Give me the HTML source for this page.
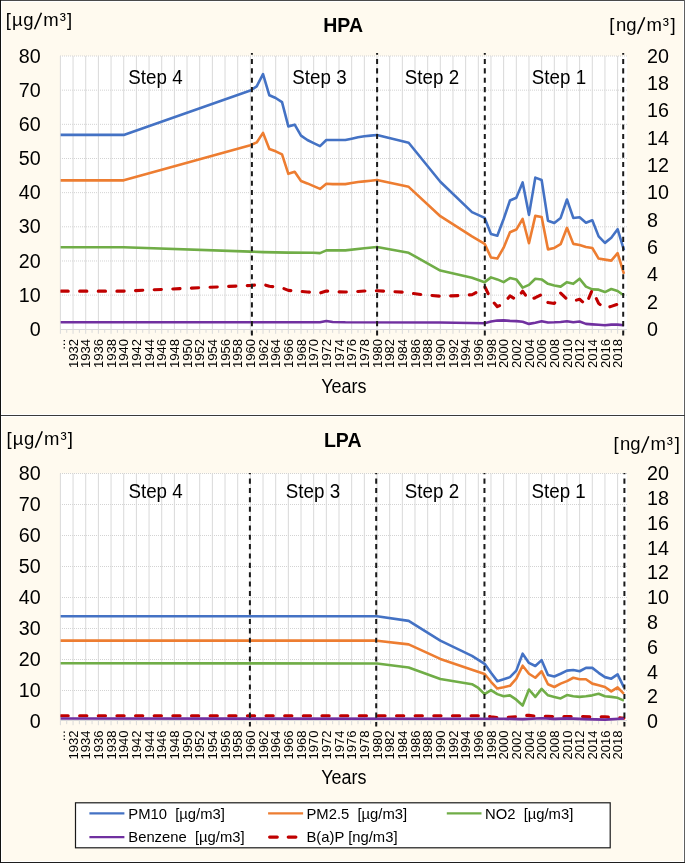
<!DOCTYPE html>
<html><head><meta charset="utf-8"><title>HPA LPA</title><style>html,body{margin:0;padding:0;background:#FFFAEF;}body{width:685px;height:863px;overflow:hidden;}svg{display:block;font-family:"Liberation Sans", sans-serif;will-change:transform;}</style></head><body>
<svg width="685" height="863" viewBox="0 0 685 863">
<rect x="0" y="0" width="685" height="863" fill="#262626"/>
<rect x="0" y="0" width="685" height="1" fill="#4A4A4A"/>
<rect x="684" y="0" width="1" height="863" fill="#606060"/>
<rect x="0" y="862" width="685" height="1" fill="#1E1E1E"/>
<rect x="0" y="415" width="685" height="1" fill="#3A3A3A"/>
<rect x="0" y="0" width="1" height="863" fill="#111"/>
<rect x="1" y="1" width="683" height="414" fill="#FFFFFF"/>
<rect x="1" y="416" width="683" height="446" fill="#FFFFFF"/>
<rect x="2" y="2" width="681" height="412" fill="#FFFAEF"/>
<rect x="2" y="417" width="681" height="444" fill="#FFFAEF"/>
<rect x="60.4" y="56" width="566.6" height="273.3" fill="#FFFFFF"/>
<line x1="60" y1="56" x2="627" y2="56" stroke="#D3D3D3" stroke-width="1" stroke-dasharray="1 1"/>
<line x1="60" y1="90.16" x2="627" y2="90.16" stroke="#D3D3D3" stroke-width="1" stroke-dasharray="1 1"/>
<line x1="60" y1="124.33" x2="627" y2="124.33" stroke="#D3D3D3" stroke-width="1" stroke-dasharray="1 1"/>
<line x1="60" y1="158.49" x2="627" y2="158.49" stroke="#D3D3D3" stroke-width="1" stroke-dasharray="1 1"/>
<line x1="60" y1="192.65" x2="627" y2="192.65" stroke="#D3D3D3" stroke-width="1" stroke-dasharray="1 1"/>
<line x1="60" y1="226.81" x2="627" y2="226.81" stroke="#D3D3D3" stroke-width="1" stroke-dasharray="1 1"/>
<line x1="60" y1="260.98" x2="627" y2="260.98" stroke="#D3D3D3" stroke-width="1" stroke-dasharray="1 1"/>
<line x1="60" y1="295.14" x2="627" y2="295.14" stroke="#D3D3D3" stroke-width="1" stroke-dasharray="1 1"/>
<line x1="60.4" y1="56" x2="60.4" y2="333.8" stroke="#D9D9D9" stroke-width="1"/>
<line x1="73.06" y1="56" x2="73.06" y2="333.8" stroke="#D9D9D9" stroke-width="1"/>
<line x1="85.73" y1="56" x2="85.73" y2="333.8" stroke="#D9D9D9" stroke-width="1"/>
<line x1="98.39" y1="56" x2="98.39" y2="333.8" stroke="#D9D9D9" stroke-width="1"/>
<line x1="111.06" y1="56" x2="111.06" y2="333.8" stroke="#D9D9D9" stroke-width="1"/>
<line x1="123.72" y1="56" x2="123.72" y2="333.8" stroke="#D9D9D9" stroke-width="1"/>
<line x1="136.38" y1="56" x2="136.38" y2="333.8" stroke="#D9D9D9" stroke-width="1"/>
<line x1="149.05" y1="56" x2="149.05" y2="333.8" stroke="#D9D9D9" stroke-width="1"/>
<line x1="161.71" y1="56" x2="161.71" y2="333.8" stroke="#D9D9D9" stroke-width="1"/>
<line x1="174.38" y1="56" x2="174.38" y2="333.8" stroke="#D9D9D9" stroke-width="1"/>
<line x1="187.04" y1="56" x2="187.04" y2="333.8" stroke="#D9D9D9" stroke-width="1"/>
<line x1="199.7" y1="56" x2="199.7" y2="333.8" stroke="#D9D9D9" stroke-width="1"/>
<line x1="212.37" y1="56" x2="212.37" y2="333.8" stroke="#D9D9D9" stroke-width="1"/>
<line x1="225.03" y1="56" x2="225.03" y2="333.8" stroke="#D9D9D9" stroke-width="1"/>
<line x1="237.7" y1="56" x2="237.7" y2="333.8" stroke="#D9D9D9" stroke-width="1"/>
<line x1="250.36" y1="56" x2="250.36" y2="333.8" stroke="#D9D9D9" stroke-width="1"/>
<line x1="263.02" y1="56" x2="263.02" y2="333.8" stroke="#D9D9D9" stroke-width="1"/>
<line x1="275.69" y1="56" x2="275.69" y2="333.8" stroke="#D9D9D9" stroke-width="1"/>
<line x1="288.35" y1="56" x2="288.35" y2="333.8" stroke="#D9D9D9" stroke-width="1"/>
<line x1="301.02" y1="56" x2="301.02" y2="333.8" stroke="#D9D9D9" stroke-width="1"/>
<line x1="313.68" y1="56" x2="313.68" y2="333.8" stroke="#D9D9D9" stroke-width="1"/>
<line x1="326.34" y1="56" x2="326.34" y2="333.8" stroke="#D9D9D9" stroke-width="1"/>
<line x1="339.01" y1="56" x2="339.01" y2="333.8" stroke="#D9D9D9" stroke-width="1"/>
<line x1="351.67" y1="56" x2="351.67" y2="333.8" stroke="#D9D9D9" stroke-width="1"/>
<line x1="364.34" y1="56" x2="364.34" y2="333.8" stroke="#D9D9D9" stroke-width="1"/>
<line x1="377" y1="56" x2="377" y2="333.8" stroke="#D9D9D9" stroke-width="1"/>
<line x1="389.66" y1="56" x2="389.66" y2="333.8" stroke="#D9D9D9" stroke-width="1"/>
<line x1="402.33" y1="56" x2="402.33" y2="333.8" stroke="#D9D9D9" stroke-width="1"/>
<line x1="414.99" y1="56" x2="414.99" y2="333.8" stroke="#D9D9D9" stroke-width="1"/>
<line x1="427.66" y1="56" x2="427.66" y2="333.8" stroke="#D9D9D9" stroke-width="1"/>
<line x1="440.32" y1="56" x2="440.32" y2="333.8" stroke="#D9D9D9" stroke-width="1"/>
<line x1="452.98" y1="56" x2="452.98" y2="333.8" stroke="#D9D9D9" stroke-width="1"/>
<line x1="465.65" y1="56" x2="465.65" y2="333.8" stroke="#D9D9D9" stroke-width="1"/>
<line x1="478.31" y1="56" x2="478.31" y2="333.8" stroke="#D9D9D9" stroke-width="1"/>
<line x1="490.98" y1="56" x2="490.98" y2="333.8" stroke="#D9D9D9" stroke-width="1"/>
<line x1="503.64" y1="56" x2="503.64" y2="333.8" stroke="#D9D9D9" stroke-width="1"/>
<line x1="516.3" y1="56" x2="516.3" y2="333.8" stroke="#D9D9D9" stroke-width="1"/>
<line x1="528.97" y1="56" x2="528.97" y2="333.8" stroke="#D9D9D9" stroke-width="1"/>
<line x1="541.63" y1="56" x2="541.63" y2="333.8" stroke="#D9D9D9" stroke-width="1"/>
<line x1="554.3" y1="56" x2="554.3" y2="333.8" stroke="#D9D9D9" stroke-width="1"/>
<line x1="566.96" y1="56" x2="566.96" y2="333.8" stroke="#D9D9D9" stroke-width="1"/>
<line x1="579.62" y1="56" x2="579.62" y2="333.8" stroke="#D9D9D9" stroke-width="1"/>
<line x1="592.29" y1="56" x2="592.29" y2="333.8" stroke="#D9D9D9" stroke-width="1"/>
<line x1="604.95" y1="56" x2="604.95" y2="333.8" stroke="#D9D9D9" stroke-width="1"/>
<line x1="617.62" y1="56" x2="617.62" y2="333.8" stroke="#D9D9D9" stroke-width="1"/>
<line x1="66.73" y1="329.3" x2="66.73" y2="332.8" stroke="#D9D9D9" stroke-width="1"/>
<line x1="79.4" y1="329.3" x2="79.4" y2="332.8" stroke="#D9D9D9" stroke-width="1"/>
<line x1="92.06" y1="329.3" x2="92.06" y2="332.8" stroke="#D9D9D9" stroke-width="1"/>
<line x1="104.72" y1="329.3" x2="104.72" y2="332.8" stroke="#D9D9D9" stroke-width="1"/>
<line x1="117.39" y1="329.3" x2="117.39" y2="332.8" stroke="#D9D9D9" stroke-width="1"/>
<line x1="130.05" y1="329.3" x2="130.05" y2="332.8" stroke="#D9D9D9" stroke-width="1"/>
<line x1="142.72" y1="329.3" x2="142.72" y2="332.8" stroke="#D9D9D9" stroke-width="1"/>
<line x1="155.38" y1="329.3" x2="155.38" y2="332.8" stroke="#D9D9D9" stroke-width="1"/>
<line x1="168.04" y1="329.3" x2="168.04" y2="332.8" stroke="#D9D9D9" stroke-width="1"/>
<line x1="180.71" y1="329.3" x2="180.71" y2="332.8" stroke="#D9D9D9" stroke-width="1"/>
<line x1="193.37" y1="329.3" x2="193.37" y2="332.8" stroke="#D9D9D9" stroke-width="1"/>
<line x1="206.04" y1="329.3" x2="206.04" y2="332.8" stroke="#D9D9D9" stroke-width="1"/>
<line x1="218.7" y1="329.3" x2="218.7" y2="332.8" stroke="#D9D9D9" stroke-width="1"/>
<line x1="231.36" y1="329.3" x2="231.36" y2="332.8" stroke="#D9D9D9" stroke-width="1"/>
<line x1="244.03" y1="329.3" x2="244.03" y2="332.8" stroke="#D9D9D9" stroke-width="1"/>
<line x1="256.69" y1="329.3" x2="256.69" y2="332.8" stroke="#D9D9D9" stroke-width="1"/>
<line x1="269.36" y1="329.3" x2="269.36" y2="332.8" stroke="#D9D9D9" stroke-width="1"/>
<line x1="282.02" y1="329.3" x2="282.02" y2="332.8" stroke="#D9D9D9" stroke-width="1"/>
<line x1="294.68" y1="329.3" x2="294.68" y2="332.8" stroke="#D9D9D9" stroke-width="1"/>
<line x1="307.35" y1="329.3" x2="307.35" y2="332.8" stroke="#D9D9D9" stroke-width="1"/>
<line x1="320.01" y1="329.3" x2="320.01" y2="332.8" stroke="#D9D9D9" stroke-width="1"/>
<line x1="332.68" y1="329.3" x2="332.68" y2="332.8" stroke="#D9D9D9" stroke-width="1"/>
<line x1="345.34" y1="329.3" x2="345.34" y2="332.8" stroke="#D9D9D9" stroke-width="1"/>
<line x1="358" y1="329.3" x2="358" y2="332.8" stroke="#D9D9D9" stroke-width="1"/>
<line x1="370.67" y1="329.3" x2="370.67" y2="332.8" stroke="#D9D9D9" stroke-width="1"/>
<line x1="383.33" y1="329.3" x2="383.33" y2="332.8" stroke="#D9D9D9" stroke-width="1"/>
<line x1="396" y1="329.3" x2="396" y2="332.8" stroke="#D9D9D9" stroke-width="1"/>
<line x1="408.66" y1="329.3" x2="408.66" y2="332.8" stroke="#D9D9D9" stroke-width="1"/>
<line x1="421.32" y1="329.3" x2="421.32" y2="332.8" stroke="#D9D9D9" stroke-width="1"/>
<line x1="433.99" y1="329.3" x2="433.99" y2="332.8" stroke="#D9D9D9" stroke-width="1"/>
<line x1="446.65" y1="329.3" x2="446.65" y2="332.8" stroke="#D9D9D9" stroke-width="1"/>
<line x1="459.32" y1="329.3" x2="459.32" y2="332.8" stroke="#D9D9D9" stroke-width="1"/>
<line x1="471.98" y1="329.3" x2="471.98" y2="332.8" stroke="#D9D9D9" stroke-width="1"/>
<line x1="484.64" y1="329.3" x2="484.64" y2="332.8" stroke="#D9D9D9" stroke-width="1"/>
<line x1="497.31" y1="329.3" x2="497.31" y2="332.8" stroke="#D9D9D9" stroke-width="1"/>
<line x1="509.97" y1="329.3" x2="509.97" y2="332.8" stroke="#D9D9D9" stroke-width="1"/>
<line x1="522.64" y1="329.3" x2="522.64" y2="332.8" stroke="#D9D9D9" stroke-width="1"/>
<line x1="535.3" y1="329.3" x2="535.3" y2="332.8" stroke="#D9D9D9" stroke-width="1"/>
<line x1="547.96" y1="329.3" x2="547.96" y2="332.8" stroke="#D9D9D9" stroke-width="1"/>
<line x1="560.63" y1="329.3" x2="560.63" y2="332.8" stroke="#D9D9D9" stroke-width="1"/>
<line x1="573.29" y1="329.3" x2="573.29" y2="332.8" stroke="#D9D9D9" stroke-width="1"/>
<line x1="585.96" y1="329.3" x2="585.96" y2="332.8" stroke="#D9D9D9" stroke-width="1"/>
<line x1="598.62" y1="329.3" x2="598.62" y2="332.8" stroke="#D9D9D9" stroke-width="1"/>
<line x1="611.28" y1="329.3" x2="611.28" y2="332.8" stroke="#D9D9D9" stroke-width="1"/>
<line x1="623.95" y1="329.3" x2="623.95" y2="332.8" stroke="#D9D9D9" stroke-width="1"/>
<line x1="60.4" y1="329.5" x2="627" y2="329.5" stroke="#D9D9D9" stroke-width="1"/>
<clipPath id="clip0"><rect x="60.4" y="53" width="566.6" height="279.3"/></clipPath>
<g clip-path="url(#clip0)">
<polyline points="60.4,134.92 123.72,134.92 250.36,90.5 256.69,86.4 263.02,74.11 269.36,95.29 275.69,98.02 282.02,102.12 288.35,126.37 294.68,124.67 301.02,135.6 307.35,140.04 313.68,143.11 320.01,146.19 326.34,140.04 332.68,140.04 339.01,140.04 345.34,140.04 351.67,138.67 358,137.31 364.34,136.28 370.67,135.6 377,134.92 408.66,142.77 440.32,181.72 471.98,212.12 484.64,217.93 490.98,233.99 497.31,235.69 503.64,218.96 509.97,200.51 516.3,197.77 522.64,182.4 528.97,214.86 535.3,177.62 541.63,180.01 547.96,220.66 554.3,223.05 560.63,217.93 566.96,199.48 573.29,217.93 579.62,217.25 585.96,222.71 592.29,220.32 598.62,236.38 604.95,242.87 611.28,237.74 617.62,229.2 623.95,250.04" fill="none" stroke="#4472C4" stroke-width="2.6" stroke-linejoin="round" stroke-linecap="butt"/>
<polyline points="60.4,180.35 123.72,180.35 250.36,145.16 256.69,142.43 263.02,132.87 269.36,148.92 275.69,151.31 282.02,154.39 288.35,173.86 294.68,171.81 301.02,181.03 307.35,183.43 313.68,186.16 320.01,188.89 326.34,183.77 332.68,184.11 339.01,184.11 345.34,184.11 351.67,183.08 358,182.06 364.34,181.38 370.67,180.69 377,180.01 408.66,186.84 440.32,216.22 471.98,236.38 484.64,243.89 490.98,257.56 497.31,258.58 503.64,247.65 509.97,232.28 516.3,229.55 522.64,218.96 528.97,243.21 535.3,215.88 541.63,216.91 547.96,249.36 554.3,247.99 560.63,244.24 566.96,227.84 573.29,243.89 579.62,244.92 585.96,246.97 592.29,247.99 598.62,258.58 604.95,259.61 611.28,260.63 617.62,253.12 623.95,273.96" fill="none" stroke="#ED7D31" stroke-width="2.6" stroke-linejoin="round" stroke-linecap="butt"/>
<polyline points="60.4,247.31 123.72,247.31 250.36,251.58 263.02,252.09 288.35,252.61 313.68,252.78 320.01,253.12 326.34,250.38 345.34,250.38 364.34,248.33 377,246.97 408.66,252.78 440.32,270.54 471.98,277.71 484.64,282.16 490.98,277.37 497.31,279.42 503.64,282.16 509.97,278.06 516.3,279.42 522.64,287.62 528.97,284.89 535.3,278.74 541.63,279.42 547.96,283.86 554.3,285.57 560.63,286.6 566.96,282.16 573.29,283.86 579.62,278.74 585.96,286.6 592.29,289.33 598.62,289.67 604.95,292.06 611.28,288.99 617.62,291.04 623.95,295.48" fill="none" stroke="#70AD47" stroke-width="2.6" stroke-linejoin="round" stroke-linecap="butt"/>
<polyline points="60.4,291.17 123.72,291.17 250.36,285.44 256.69,284.89 263.02,284.34 269.36,286.26 275.69,286.94 282.02,287.9 288.35,290.35 294.68,291.04 301.02,291.45 307.35,291.99 313.68,292.4 320.01,293.09 326.34,291.04 332.68,291.45 339.01,291.86 345.34,291.99 351.67,291.72 358,291.45 364.34,291.04 370.67,290.9 377,290.76 402.33,292.13 421.32,294.59 440.32,296.23 459.32,295.55 471.98,294.73 478.31,291.17 484.64,286.39 490.98,299.37 497.31,306.62 503.64,303.61 509.97,295.96 516.3,299.65 522.64,291.17 528.97,300.19 535.3,297.73 541.63,294.59 547.96,302.52 554.3,303.47 560.63,293.09 566.96,299.24 573.29,301.01 579.62,299.24 585.96,304.7 592.29,289.94 598.62,303.34 604.95,308.53 611.28,306.34 617.62,304.16 623.95,303.34" fill="none" stroke="#C00000" stroke-width="3.1" stroke-linejoin="round" stroke-linecap="round" stroke-dasharray="7.24 11.4" stroke-dashoffset="18.05"/>
<polyline points="60.4,322.19 320.01,322.19 326.34,320.93 332.68,321.96 345.34,322.3 440.32,322.47 484.64,323.18 490.98,321.58 497.31,320.59 503.64,320.38 509.97,320.9 516.3,321.1 522.64,321.78 528.97,323.9 535.3,322.67 541.63,321.27 547.96,322.47 554.3,322.3 560.63,321.99 566.96,321.27 573.29,322.3 579.62,321.58 585.96,323.9 592.29,324.38 598.62,324.79 604.95,325.3 611.28,324.59 617.62,324.59 623.95,325.3" fill="none" stroke="#7030A0" stroke-width="2.6" stroke-linejoin="round" stroke-linecap="butt"/>
</g>
<line x1="251.9" y1="52.9" x2="251.9" y2="335.7" stroke="#1A1A1A" stroke-width="2" stroke-dasharray="5.05 4.31" stroke-dashoffset="3.26"/>
<line x1="377.1" y1="52.9" x2="377.1" y2="335.7" stroke="#1A1A1A" stroke-width="2" stroke-dasharray="5.05 4.31" stroke-dashoffset="3.26"/>
<line x1="484.8" y1="52.9" x2="484.8" y2="335.7" stroke="#1A1A1A" stroke-width="2" stroke-dasharray="5.05 4.31" stroke-dashoffset="3.26"/>
<line x1="623.2" y1="52.9" x2="623.2" y2="335.7" stroke="#1A1A1A" stroke-width="2" stroke-dasharray="5.05 4.31" stroke-dashoffset="3.26"/>
<text transform="translate(128.3,83.6) scale(0.925,1)" font-size="20.3" fill="#000">Step 4</text>
<text transform="translate(292.3,83.6) scale(0.925,1)" font-size="20.3" fill="#000">Step 3</text>
<text transform="translate(404.8,83.6) scale(0.925,1)" font-size="20.3" fill="#000">Step 2</text>
<text transform="translate(531.8,83.6) scale(0.925,1)" font-size="20.3" fill="#000">Step 1</text>
<text transform="translate(40.6,62.63) scale(0.943,1)" font-size="20.9" text-anchor="end" fill="#000">80</text>
<text transform="translate(40.6,96.79) scale(0.943,1)" font-size="20.9" text-anchor="end" fill="#000">70</text>
<text transform="translate(40.6,130.96) scale(0.943,1)" font-size="20.9" text-anchor="end" fill="#000">60</text>
<text transform="translate(40.6,165.12) scale(0.943,1)" font-size="20.9" text-anchor="end" fill="#000">50</text>
<text transform="translate(40.6,199.28) scale(0.943,1)" font-size="20.9" text-anchor="end" fill="#000">40</text>
<text transform="translate(40.6,233.44) scale(0.943,1)" font-size="20.9" text-anchor="end" fill="#000">30</text>
<text transform="translate(40.6,267.61) scale(0.943,1)" font-size="20.9" text-anchor="end" fill="#000">20</text>
<text transform="translate(40.6,301.77) scale(0.943,1)" font-size="20.9" text-anchor="end" fill="#000">10</text>
<text transform="translate(40.6,335.93) scale(0.943,1)" font-size="20.9" text-anchor="end" fill="#000">0</text>
<text transform="translate(647.1,62.63) scale(0.943,1)" font-size="20.9" fill="#000">20</text>
<text transform="translate(647.1,89.96) scale(0.943,1)" font-size="20.9" fill="#000">18</text>
<text transform="translate(647.1,117.29) scale(0.943,1)" font-size="20.9" fill="#000">16</text>
<text transform="translate(647.1,144.62) scale(0.943,1)" font-size="20.9" fill="#000">14</text>
<text transform="translate(647.1,171.95) scale(0.943,1)" font-size="20.9" fill="#000">12</text>
<text transform="translate(647.1,199.28) scale(0.943,1)" font-size="20.9" fill="#000">10</text>
<text transform="translate(647.1,226.61) scale(0.943,1)" font-size="20.9" fill="#000">8</text>
<text transform="translate(647.1,253.94) scale(0.943,1)" font-size="20.9" fill="#000">6</text>
<text transform="translate(647.1,281.27) scale(0.943,1)" font-size="20.9" fill="#000">4</text>
<text transform="translate(647.1,308.6) scale(0.943,1)" font-size="20.9" fill="#000">2</text>
<text transform="translate(647.1,335.93) scale(0.943,1)" font-size="20.9" fill="#000">0</text>
<text transform="translate(65,339) rotate(-90) scale(1.045,1)" font-size="12.5" text-anchor="end" fill="#000">...</text>
<text transform="translate(77.66,339) rotate(-90) scale(1.045,1)" font-size="12.5" text-anchor="end" fill="#000">1932</text>
<text transform="translate(90.33,339) rotate(-90) scale(1.045,1)" font-size="12.5" text-anchor="end" fill="#000">1934</text>
<text transform="translate(102.99,339) rotate(-90) scale(1.045,1)" font-size="12.5" text-anchor="end" fill="#000">1936</text>
<text transform="translate(115.66,339) rotate(-90) scale(1.045,1)" font-size="12.5" text-anchor="end" fill="#000">1938</text>
<text transform="translate(128.32,339) rotate(-90) scale(1.045,1)" font-size="12.5" text-anchor="end" fill="#000">1940</text>
<text transform="translate(140.98,339) rotate(-90) scale(1.045,1)" font-size="12.5" text-anchor="end" fill="#000">1942</text>
<text transform="translate(153.65,339) rotate(-90) scale(1.045,1)" font-size="12.5" text-anchor="end" fill="#000">1944</text>
<text transform="translate(166.31,339) rotate(-90) scale(1.045,1)" font-size="12.5" text-anchor="end" fill="#000">1946</text>
<text transform="translate(178.98,339) rotate(-90) scale(1.045,1)" font-size="12.5" text-anchor="end" fill="#000">1948</text>
<text transform="translate(191.64,339) rotate(-90) scale(1.045,1)" font-size="12.5" text-anchor="end" fill="#000">1950</text>
<text transform="translate(204.3,339) rotate(-90) scale(1.045,1)" font-size="12.5" text-anchor="end" fill="#000">1952</text>
<text transform="translate(216.97,339) rotate(-90) scale(1.045,1)" font-size="12.5" text-anchor="end" fill="#000">1954</text>
<text transform="translate(229.63,339) rotate(-90) scale(1.045,1)" font-size="12.5" text-anchor="end" fill="#000">1956</text>
<text transform="translate(242.3,339) rotate(-90) scale(1.045,1)" font-size="12.5" text-anchor="end" fill="#000">1958</text>
<text transform="translate(254.96,339) rotate(-90) scale(1.045,1)" font-size="12.5" text-anchor="end" fill="#000">1960</text>
<text transform="translate(267.62,339) rotate(-90) scale(1.045,1)" font-size="12.5" text-anchor="end" fill="#000">1962</text>
<text transform="translate(280.29,339) rotate(-90) scale(1.045,1)" font-size="12.5" text-anchor="end" fill="#000">1964</text>
<text transform="translate(292.95,339) rotate(-90) scale(1.045,1)" font-size="12.5" text-anchor="end" fill="#000">1966</text>
<text transform="translate(305.62,339) rotate(-90) scale(1.045,1)" font-size="12.5" text-anchor="end" fill="#000">1968</text>
<text transform="translate(318.28,339) rotate(-90) scale(1.045,1)" font-size="12.5" text-anchor="end" fill="#000">1970</text>
<text transform="translate(330.94,339) rotate(-90) scale(1.045,1)" font-size="12.5" text-anchor="end" fill="#000">1972</text>
<text transform="translate(343.61,339) rotate(-90) scale(1.045,1)" font-size="12.5" text-anchor="end" fill="#000">1974</text>
<text transform="translate(356.27,339) rotate(-90) scale(1.045,1)" font-size="12.5" text-anchor="end" fill="#000">1976</text>
<text transform="translate(368.94,339) rotate(-90) scale(1.045,1)" font-size="12.5" text-anchor="end" fill="#000">1978</text>
<text transform="translate(381.6,339) rotate(-90) scale(1.045,1)" font-size="12.5" text-anchor="end" fill="#000">1980</text>
<text transform="translate(394.26,339) rotate(-90) scale(1.045,1)" font-size="12.5" text-anchor="end" fill="#000">1982</text>
<text transform="translate(406.93,339) rotate(-90) scale(1.045,1)" font-size="12.5" text-anchor="end" fill="#000">1984</text>
<text transform="translate(419.59,339) rotate(-90) scale(1.045,1)" font-size="12.5" text-anchor="end" fill="#000">1986</text>
<text transform="translate(432.26,339) rotate(-90) scale(1.045,1)" font-size="12.5" text-anchor="end" fill="#000">1988</text>
<text transform="translate(444.92,339) rotate(-90) scale(1.045,1)" font-size="12.5" text-anchor="end" fill="#000">1990</text>
<text transform="translate(457.58,339) rotate(-90) scale(1.045,1)" font-size="12.5" text-anchor="end" fill="#000">1992</text>
<text transform="translate(470.25,339) rotate(-90) scale(1.045,1)" font-size="12.5" text-anchor="end" fill="#000">1994</text>
<text transform="translate(482.91,339) rotate(-90) scale(1.045,1)" font-size="12.5" text-anchor="end" fill="#000">1996</text>
<text transform="translate(495.58,339) rotate(-90) scale(1.045,1)" font-size="12.5" text-anchor="end" fill="#000">1998</text>
<text transform="translate(508.24,339) rotate(-90) scale(1.045,1)" font-size="12.5" text-anchor="end" fill="#000">2000</text>
<text transform="translate(520.9,339) rotate(-90) scale(1.045,1)" font-size="12.5" text-anchor="end" fill="#000">2002</text>
<text transform="translate(533.57,339) rotate(-90) scale(1.045,1)" font-size="12.5" text-anchor="end" fill="#000">2004</text>
<text transform="translate(546.23,339) rotate(-90) scale(1.045,1)" font-size="12.5" text-anchor="end" fill="#000">2006</text>
<text transform="translate(558.9,339) rotate(-90) scale(1.045,1)" font-size="12.5" text-anchor="end" fill="#000">2008</text>
<text transform="translate(571.56,339) rotate(-90) scale(1.045,1)" font-size="12.5" text-anchor="end" fill="#000">2010</text>
<text transform="translate(584.22,339) rotate(-90) scale(1.045,1)" font-size="12.5" text-anchor="end" fill="#000">2012</text>
<text transform="translate(596.89,339) rotate(-90) scale(1.045,1)" font-size="12.5" text-anchor="end" fill="#000">2014</text>
<text transform="translate(609.55,339) rotate(-90) scale(1.045,1)" font-size="12.5" text-anchor="end" fill="#000">2016</text>
<text transform="translate(622.22,339) rotate(-90) scale(1.045,1)" font-size="12.5" text-anchor="end" fill="#000">2018</text>
<text transform="translate(343.1,32) scale(0.93,1)" font-size="21" font-weight="bold" text-anchor="middle" fill="#000">HPA</text>
<text transform="translate(343.8,392.6) scale(0.93,1)" font-size="19.3" text-anchor="middle" fill="#000">Years</text>
<line x1="34.55" y1="29.3" x2="41.45" y2="12.7" stroke="#000" stroke-width="1.55"/>
<text x="5.64 12 23.31 43.14 59.68 67.02" y="26.3" font-size="18.5" fill="#000" >[µgm³]</text>
<line x1="637.55" y1="33.9" x2="644.65" y2="17.3" stroke="#000" stroke-width="1.55"/>
<text x="609.34 615.94 626.26 646.39 662.68 670.57" y="30.9" font-size="18.5" fill="#000" >[ngm³]</text>
<rect x="60.4" y="473.5" width="566.6" height="247.2" fill="#FFFFFF"/>
<line x1="60" y1="473.5" x2="627" y2="473.5" stroke="#D3D3D3" stroke-width="1" stroke-dasharray="1 1"/>
<line x1="60" y1="504.5" x2="627" y2="504.5" stroke="#D3D3D3" stroke-width="1" stroke-dasharray="1 1"/>
<line x1="60" y1="535.5" x2="627" y2="535.5" stroke="#D3D3D3" stroke-width="1" stroke-dasharray="1 1"/>
<line x1="60" y1="566.5" x2="627" y2="566.5" stroke="#D3D3D3" stroke-width="1" stroke-dasharray="1 1"/>
<line x1="60" y1="597.5" x2="627" y2="597.5" stroke="#D3D3D3" stroke-width="1" stroke-dasharray="1 1"/>
<line x1="60" y1="628.5" x2="627" y2="628.5" stroke="#D3D3D3" stroke-width="1" stroke-dasharray="1 1"/>
<line x1="60" y1="659.5" x2="627" y2="659.5" stroke="#D3D3D3" stroke-width="1" stroke-dasharray="1 1"/>
<line x1="60" y1="690.5" x2="627" y2="690.5" stroke="#D3D3D3" stroke-width="1" stroke-dasharray="1 1"/>
<line x1="60.4" y1="473.5" x2="60.4" y2="725.2" stroke="#D9D9D9" stroke-width="1"/>
<line x1="73.06" y1="473.5" x2="73.06" y2="725.2" stroke="#D9D9D9" stroke-width="1"/>
<line x1="85.73" y1="473.5" x2="85.73" y2="725.2" stroke="#D9D9D9" stroke-width="1"/>
<line x1="98.39" y1="473.5" x2="98.39" y2="725.2" stroke="#D9D9D9" stroke-width="1"/>
<line x1="111.06" y1="473.5" x2="111.06" y2="725.2" stroke="#D9D9D9" stroke-width="1"/>
<line x1="123.72" y1="473.5" x2="123.72" y2="725.2" stroke="#D9D9D9" stroke-width="1"/>
<line x1="136.38" y1="473.5" x2="136.38" y2="725.2" stroke="#D9D9D9" stroke-width="1"/>
<line x1="149.05" y1="473.5" x2="149.05" y2="725.2" stroke="#D9D9D9" stroke-width="1"/>
<line x1="161.71" y1="473.5" x2="161.71" y2="725.2" stroke="#D9D9D9" stroke-width="1"/>
<line x1="174.38" y1="473.5" x2="174.38" y2="725.2" stroke="#D9D9D9" stroke-width="1"/>
<line x1="187.04" y1="473.5" x2="187.04" y2="725.2" stroke="#D9D9D9" stroke-width="1"/>
<line x1="199.7" y1="473.5" x2="199.7" y2="725.2" stroke="#D9D9D9" stroke-width="1"/>
<line x1="212.37" y1="473.5" x2="212.37" y2="725.2" stroke="#D9D9D9" stroke-width="1"/>
<line x1="225.03" y1="473.5" x2="225.03" y2="725.2" stroke="#D9D9D9" stroke-width="1"/>
<line x1="237.7" y1="473.5" x2="237.7" y2="725.2" stroke="#D9D9D9" stroke-width="1"/>
<line x1="250.36" y1="473.5" x2="250.36" y2="725.2" stroke="#D9D9D9" stroke-width="1"/>
<line x1="263.02" y1="473.5" x2="263.02" y2="725.2" stroke="#D9D9D9" stroke-width="1"/>
<line x1="275.69" y1="473.5" x2="275.69" y2="725.2" stroke="#D9D9D9" stroke-width="1"/>
<line x1="288.35" y1="473.5" x2="288.35" y2="725.2" stroke="#D9D9D9" stroke-width="1"/>
<line x1="301.02" y1="473.5" x2="301.02" y2="725.2" stroke="#D9D9D9" stroke-width="1"/>
<line x1="313.68" y1="473.5" x2="313.68" y2="725.2" stroke="#D9D9D9" stroke-width="1"/>
<line x1="326.34" y1="473.5" x2="326.34" y2="725.2" stroke="#D9D9D9" stroke-width="1"/>
<line x1="339.01" y1="473.5" x2="339.01" y2="725.2" stroke="#D9D9D9" stroke-width="1"/>
<line x1="351.67" y1="473.5" x2="351.67" y2="725.2" stroke="#D9D9D9" stroke-width="1"/>
<line x1="364.34" y1="473.5" x2="364.34" y2="725.2" stroke="#D9D9D9" stroke-width="1"/>
<line x1="377" y1="473.5" x2="377" y2="725.2" stroke="#D9D9D9" stroke-width="1"/>
<line x1="389.66" y1="473.5" x2="389.66" y2="725.2" stroke="#D9D9D9" stroke-width="1"/>
<line x1="402.33" y1="473.5" x2="402.33" y2="725.2" stroke="#D9D9D9" stroke-width="1"/>
<line x1="414.99" y1="473.5" x2="414.99" y2="725.2" stroke="#D9D9D9" stroke-width="1"/>
<line x1="427.66" y1="473.5" x2="427.66" y2="725.2" stroke="#D9D9D9" stroke-width="1"/>
<line x1="440.32" y1="473.5" x2="440.32" y2="725.2" stroke="#D9D9D9" stroke-width="1"/>
<line x1="452.98" y1="473.5" x2="452.98" y2="725.2" stroke="#D9D9D9" stroke-width="1"/>
<line x1="465.65" y1="473.5" x2="465.65" y2="725.2" stroke="#D9D9D9" stroke-width="1"/>
<line x1="478.31" y1="473.5" x2="478.31" y2="725.2" stroke="#D9D9D9" stroke-width="1"/>
<line x1="490.98" y1="473.5" x2="490.98" y2="725.2" stroke="#D9D9D9" stroke-width="1"/>
<line x1="503.64" y1="473.5" x2="503.64" y2="725.2" stroke="#D9D9D9" stroke-width="1"/>
<line x1="516.3" y1="473.5" x2="516.3" y2="725.2" stroke="#D9D9D9" stroke-width="1"/>
<line x1="528.97" y1="473.5" x2="528.97" y2="725.2" stroke="#D9D9D9" stroke-width="1"/>
<line x1="541.63" y1="473.5" x2="541.63" y2="725.2" stroke="#D9D9D9" stroke-width="1"/>
<line x1="554.3" y1="473.5" x2="554.3" y2="725.2" stroke="#D9D9D9" stroke-width="1"/>
<line x1="566.96" y1="473.5" x2="566.96" y2="725.2" stroke="#D9D9D9" stroke-width="1"/>
<line x1="579.62" y1="473.5" x2="579.62" y2="725.2" stroke="#D9D9D9" stroke-width="1"/>
<line x1="592.29" y1="473.5" x2="592.29" y2="725.2" stroke="#D9D9D9" stroke-width="1"/>
<line x1="604.95" y1="473.5" x2="604.95" y2="725.2" stroke="#D9D9D9" stroke-width="1"/>
<line x1="617.62" y1="473.5" x2="617.62" y2="725.2" stroke="#D9D9D9" stroke-width="1"/>
<line x1="66.73" y1="720.7" x2="66.73" y2="724.2" stroke="#D9D9D9" stroke-width="1"/>
<line x1="79.4" y1="720.7" x2="79.4" y2="724.2" stroke="#D9D9D9" stroke-width="1"/>
<line x1="92.06" y1="720.7" x2="92.06" y2="724.2" stroke="#D9D9D9" stroke-width="1"/>
<line x1="104.72" y1="720.7" x2="104.72" y2="724.2" stroke="#D9D9D9" stroke-width="1"/>
<line x1="117.39" y1="720.7" x2="117.39" y2="724.2" stroke="#D9D9D9" stroke-width="1"/>
<line x1="130.05" y1="720.7" x2="130.05" y2="724.2" stroke="#D9D9D9" stroke-width="1"/>
<line x1="142.72" y1="720.7" x2="142.72" y2="724.2" stroke="#D9D9D9" stroke-width="1"/>
<line x1="155.38" y1="720.7" x2="155.38" y2="724.2" stroke="#D9D9D9" stroke-width="1"/>
<line x1="168.04" y1="720.7" x2="168.04" y2="724.2" stroke="#D9D9D9" stroke-width="1"/>
<line x1="180.71" y1="720.7" x2="180.71" y2="724.2" stroke="#D9D9D9" stroke-width="1"/>
<line x1="193.37" y1="720.7" x2="193.37" y2="724.2" stroke="#D9D9D9" stroke-width="1"/>
<line x1="206.04" y1="720.7" x2="206.04" y2="724.2" stroke="#D9D9D9" stroke-width="1"/>
<line x1="218.7" y1="720.7" x2="218.7" y2="724.2" stroke="#D9D9D9" stroke-width="1"/>
<line x1="231.36" y1="720.7" x2="231.36" y2="724.2" stroke="#D9D9D9" stroke-width="1"/>
<line x1="244.03" y1="720.7" x2="244.03" y2="724.2" stroke="#D9D9D9" stroke-width="1"/>
<line x1="256.69" y1="720.7" x2="256.69" y2="724.2" stroke="#D9D9D9" stroke-width="1"/>
<line x1="269.36" y1="720.7" x2="269.36" y2="724.2" stroke="#D9D9D9" stroke-width="1"/>
<line x1="282.02" y1="720.7" x2="282.02" y2="724.2" stroke="#D9D9D9" stroke-width="1"/>
<line x1="294.68" y1="720.7" x2="294.68" y2="724.2" stroke="#D9D9D9" stroke-width="1"/>
<line x1="307.35" y1="720.7" x2="307.35" y2="724.2" stroke="#D9D9D9" stroke-width="1"/>
<line x1="320.01" y1="720.7" x2="320.01" y2="724.2" stroke="#D9D9D9" stroke-width="1"/>
<line x1="332.68" y1="720.7" x2="332.68" y2="724.2" stroke="#D9D9D9" stroke-width="1"/>
<line x1="345.34" y1="720.7" x2="345.34" y2="724.2" stroke="#D9D9D9" stroke-width="1"/>
<line x1="358" y1="720.7" x2="358" y2="724.2" stroke="#D9D9D9" stroke-width="1"/>
<line x1="370.67" y1="720.7" x2="370.67" y2="724.2" stroke="#D9D9D9" stroke-width="1"/>
<line x1="383.33" y1="720.7" x2="383.33" y2="724.2" stroke="#D9D9D9" stroke-width="1"/>
<line x1="396" y1="720.7" x2="396" y2="724.2" stroke="#D9D9D9" stroke-width="1"/>
<line x1="408.66" y1="720.7" x2="408.66" y2="724.2" stroke="#D9D9D9" stroke-width="1"/>
<line x1="421.32" y1="720.7" x2="421.32" y2="724.2" stroke="#D9D9D9" stroke-width="1"/>
<line x1="433.99" y1="720.7" x2="433.99" y2="724.2" stroke="#D9D9D9" stroke-width="1"/>
<line x1="446.65" y1="720.7" x2="446.65" y2="724.2" stroke="#D9D9D9" stroke-width="1"/>
<line x1="459.32" y1="720.7" x2="459.32" y2="724.2" stroke="#D9D9D9" stroke-width="1"/>
<line x1="471.98" y1="720.7" x2="471.98" y2="724.2" stroke="#D9D9D9" stroke-width="1"/>
<line x1="484.64" y1="720.7" x2="484.64" y2="724.2" stroke="#D9D9D9" stroke-width="1"/>
<line x1="497.31" y1="720.7" x2="497.31" y2="724.2" stroke="#D9D9D9" stroke-width="1"/>
<line x1="509.97" y1="720.7" x2="509.97" y2="724.2" stroke="#D9D9D9" stroke-width="1"/>
<line x1="522.64" y1="720.7" x2="522.64" y2="724.2" stroke="#D9D9D9" stroke-width="1"/>
<line x1="535.3" y1="720.7" x2="535.3" y2="724.2" stroke="#D9D9D9" stroke-width="1"/>
<line x1="547.96" y1="720.7" x2="547.96" y2="724.2" stroke="#D9D9D9" stroke-width="1"/>
<line x1="560.63" y1="720.7" x2="560.63" y2="724.2" stroke="#D9D9D9" stroke-width="1"/>
<line x1="573.29" y1="720.7" x2="573.29" y2="724.2" stroke="#D9D9D9" stroke-width="1"/>
<line x1="585.96" y1="720.7" x2="585.96" y2="724.2" stroke="#D9D9D9" stroke-width="1"/>
<line x1="598.62" y1="720.7" x2="598.62" y2="724.2" stroke="#D9D9D9" stroke-width="1"/>
<line x1="611.28" y1="720.7" x2="611.28" y2="724.2" stroke="#D9D9D9" stroke-width="1"/>
<line x1="623.95" y1="720.7" x2="623.95" y2="724.2" stroke="#D9D9D9" stroke-width="1"/>
<line x1="60.4" y1="720.5" x2="627" y2="720.5" stroke="#D9D9D9" stroke-width="1"/>
<clipPath id="clip415"><rect x="60.4" y="470.5" width="566.6" height="253.2"/></clipPath>
<g clip-path="url(#clip415)">
<polyline points="60.4,616.26 377,616.26 408.66,620.89 440.32,640.67 471.98,655.81 484.64,663.84 490.98,672.81 497.31,681.15 503.64,679.29 509.97,677.13 516.3,670.64 522.64,653.65 528.97,662.92 535.3,666.01 541.63,660.14 547.96,674.97 554.3,676.51 560.63,673.73 566.96,670.64 573.29,670.02 579.62,671.26 585.96,667.86 592.29,667.86 598.62,672.81 604.95,677.13 611.28,678.68 617.62,674.35 623.95,687.33" fill="none" stroke="#4472C4" stroke-width="2.6" stroke-linejoin="round" stroke-linecap="butt"/>
<polyline points="60.4,640.67 377,640.67 408.66,644.38 440.32,658.9 471.98,669.72 484.64,674.04 490.98,681.77 497.31,688.56 503.64,687.33 509.97,685.78 516.3,678.68 522.64,665.7 528.97,673.73 535.3,677.75 541.63,671.26 547.96,684.24 554.3,687.02 560.63,683.62 566.96,681.15 573.29,677.75 579.62,679.29 585.96,679.29 592.29,683.62 598.62,685.17 604.95,687.02 611.28,691.35 617.62,687.33 623.95,693.82" fill="none" stroke="#ED7D31" stroke-width="2.6" stroke-linejoin="round" stroke-linecap="butt"/>
<polyline points="60.4,663.23 377,663.54 408.66,667.55 440.32,678.99 471.98,684.24 478.31,687.95 484.64,694.13 490.98,690.11 497.31,694.13 503.64,696.29 509.97,695.36 516.3,699.69 522.64,705.56 528.97,689.49 535.3,696.91 541.63,688.87 547.96,695.36 554.3,696.91 560.63,698.45 566.96,695.05 573.29,696.29 579.62,696.91 585.96,696.29 592.29,695.36 598.62,693.82 604.95,696.29 611.28,696.91 617.62,697.83 623.95,700.62" fill="none" stroke="#70AD47" stroke-width="2.6" stroke-linejoin="round" stroke-linecap="butt"/>
<polyline points="60.4,715.76 484.64,715.76 490.98,716.74 497.31,717.49 503.64,717.49 516.3,716.74 522.64,715.39 528.97,715.39 535.3,716.25 547.96,716.37 560.63,716.74 573.29,716.37 592.29,716.74 604.95,716.74 623.95,718.23" fill="none" stroke="#C00000" stroke-width="3.1" stroke-linejoin="round" stroke-linecap="round" stroke-dasharray="7.24 11.4" stroke-dashoffset="18.05"/>
<polyline points="60.4,718.51 484.64,718.69 503.64,718.69 522.64,719.16 541.63,718.23 554.3,718.85 566.96,718.38 585.96,719.16 604.95,719.59 623.95,718.54" fill="none" stroke="#7030A0" stroke-width="2.6" stroke-linejoin="round" stroke-linecap="butt"/>
</g>
<line x1="249.9" y1="473" x2="249.9" y2="726.4" stroke="#1A1A1A" stroke-width="2" stroke-dasharray="5.05 4.31" stroke-dashoffset="3.76"/>
<line x1="376.2" y1="473" x2="376.2" y2="726.4" stroke="#1A1A1A" stroke-width="2" stroke-dasharray="5.05 4.31" stroke-dashoffset="3.76"/>
<line x1="484.45" y1="473" x2="484.45" y2="726.4" stroke="#1A1A1A" stroke-width="2" stroke-dasharray="5.05 4.31" stroke-dashoffset="3.76"/>
<line x1="624.4" y1="473" x2="624.4" y2="726.4" stroke="#1A1A1A" stroke-width="2" stroke-dasharray="5.05 4.31" stroke-dashoffset="3.76"/>
<text transform="translate(128.4,497.6) scale(0.925,1)" font-size="20.3" fill="#000">Step 4</text>
<text transform="translate(285.8,497.6) scale(0.925,1)" font-size="20.3" fill="#000">Step 3</text>
<text transform="translate(404.8,497.6) scale(0.925,1)" font-size="20.3" fill="#000">Step 2</text>
<text transform="translate(531.5,497.6) scale(0.925,1)" font-size="20.3" fill="#000">Step 1</text>
<text transform="translate(40.6,480.43) scale(0.943,1)" font-size="20.9" text-anchor="end" fill="#000">80</text>
<text transform="translate(40.6,511.38) scale(0.943,1)" font-size="20.9" text-anchor="end" fill="#000">70</text>
<text transform="translate(40.6,542.33) scale(0.943,1)" font-size="20.9" text-anchor="end" fill="#000">60</text>
<text transform="translate(40.6,573.28) scale(0.943,1)" font-size="20.9" text-anchor="end" fill="#000">50</text>
<text transform="translate(40.6,604.23) scale(0.943,1)" font-size="20.9" text-anchor="end" fill="#000">40</text>
<text transform="translate(40.6,635.18) scale(0.943,1)" font-size="20.9" text-anchor="end" fill="#000">30</text>
<text transform="translate(40.6,666.13) scale(0.943,1)" font-size="20.9" text-anchor="end" fill="#000">20</text>
<text transform="translate(40.6,697.08) scale(0.943,1)" font-size="20.9" text-anchor="end" fill="#000">10</text>
<text transform="translate(40.6,728.03) scale(0.943,1)" font-size="20.9" text-anchor="end" fill="#000">0</text>
<text transform="translate(647.1,480.43) scale(0.943,1)" font-size="20.9" fill="#000">20</text>
<text transform="translate(647.1,505.19) scale(0.943,1)" font-size="20.9" fill="#000">18</text>
<text transform="translate(647.1,529.95) scale(0.943,1)" font-size="20.9" fill="#000">16</text>
<text transform="translate(647.1,554.71) scale(0.943,1)" font-size="20.9" fill="#000">14</text>
<text transform="translate(647.1,579.47) scale(0.943,1)" font-size="20.9" fill="#000">12</text>
<text transform="translate(647.1,604.23) scale(0.943,1)" font-size="20.9" fill="#000">10</text>
<text transform="translate(647.1,628.99) scale(0.943,1)" font-size="20.9" fill="#000">8</text>
<text transform="translate(647.1,653.75) scale(0.943,1)" font-size="20.9" fill="#000">6</text>
<text transform="translate(647.1,678.51) scale(0.943,1)" font-size="20.9" fill="#000">4</text>
<text transform="translate(647.1,703.27) scale(0.943,1)" font-size="20.9" fill="#000">2</text>
<text transform="translate(647.1,728.03) scale(0.943,1)" font-size="20.9" fill="#000">0</text>
<text transform="translate(65,730.4) rotate(-90) scale(1.045,1)" font-size="12.5" text-anchor="end" fill="#000">...</text>
<text transform="translate(77.66,730.4) rotate(-90) scale(1.045,1)" font-size="12.5" text-anchor="end" fill="#000">1932</text>
<text transform="translate(90.33,730.4) rotate(-90) scale(1.045,1)" font-size="12.5" text-anchor="end" fill="#000">1934</text>
<text transform="translate(102.99,730.4) rotate(-90) scale(1.045,1)" font-size="12.5" text-anchor="end" fill="#000">1936</text>
<text transform="translate(115.66,730.4) rotate(-90) scale(1.045,1)" font-size="12.5" text-anchor="end" fill="#000">1938</text>
<text transform="translate(128.32,730.4) rotate(-90) scale(1.045,1)" font-size="12.5" text-anchor="end" fill="#000">1940</text>
<text transform="translate(140.98,730.4) rotate(-90) scale(1.045,1)" font-size="12.5" text-anchor="end" fill="#000">1942</text>
<text transform="translate(153.65,730.4) rotate(-90) scale(1.045,1)" font-size="12.5" text-anchor="end" fill="#000">1944</text>
<text transform="translate(166.31,730.4) rotate(-90) scale(1.045,1)" font-size="12.5" text-anchor="end" fill="#000">1946</text>
<text transform="translate(178.98,730.4) rotate(-90) scale(1.045,1)" font-size="12.5" text-anchor="end" fill="#000">1948</text>
<text transform="translate(191.64,730.4) rotate(-90) scale(1.045,1)" font-size="12.5" text-anchor="end" fill="#000">1950</text>
<text transform="translate(204.3,730.4) rotate(-90) scale(1.045,1)" font-size="12.5" text-anchor="end" fill="#000">1952</text>
<text transform="translate(216.97,730.4) rotate(-90) scale(1.045,1)" font-size="12.5" text-anchor="end" fill="#000">1954</text>
<text transform="translate(229.63,730.4) rotate(-90) scale(1.045,1)" font-size="12.5" text-anchor="end" fill="#000">1956</text>
<text transform="translate(242.3,730.4) rotate(-90) scale(1.045,1)" font-size="12.5" text-anchor="end" fill="#000">1958</text>
<text transform="translate(254.96,730.4) rotate(-90) scale(1.045,1)" font-size="12.5" text-anchor="end" fill="#000">1960</text>
<text transform="translate(267.62,730.4) rotate(-90) scale(1.045,1)" font-size="12.5" text-anchor="end" fill="#000">1962</text>
<text transform="translate(280.29,730.4) rotate(-90) scale(1.045,1)" font-size="12.5" text-anchor="end" fill="#000">1964</text>
<text transform="translate(292.95,730.4) rotate(-90) scale(1.045,1)" font-size="12.5" text-anchor="end" fill="#000">1966</text>
<text transform="translate(305.62,730.4) rotate(-90) scale(1.045,1)" font-size="12.5" text-anchor="end" fill="#000">1968</text>
<text transform="translate(318.28,730.4) rotate(-90) scale(1.045,1)" font-size="12.5" text-anchor="end" fill="#000">1970</text>
<text transform="translate(330.94,730.4) rotate(-90) scale(1.045,1)" font-size="12.5" text-anchor="end" fill="#000">1972</text>
<text transform="translate(343.61,730.4) rotate(-90) scale(1.045,1)" font-size="12.5" text-anchor="end" fill="#000">1974</text>
<text transform="translate(356.27,730.4) rotate(-90) scale(1.045,1)" font-size="12.5" text-anchor="end" fill="#000">1976</text>
<text transform="translate(368.94,730.4) rotate(-90) scale(1.045,1)" font-size="12.5" text-anchor="end" fill="#000">1978</text>
<text transform="translate(381.6,730.4) rotate(-90) scale(1.045,1)" font-size="12.5" text-anchor="end" fill="#000">1980</text>
<text transform="translate(394.26,730.4) rotate(-90) scale(1.045,1)" font-size="12.5" text-anchor="end" fill="#000">1982</text>
<text transform="translate(406.93,730.4) rotate(-90) scale(1.045,1)" font-size="12.5" text-anchor="end" fill="#000">1984</text>
<text transform="translate(419.59,730.4) rotate(-90) scale(1.045,1)" font-size="12.5" text-anchor="end" fill="#000">1986</text>
<text transform="translate(432.26,730.4) rotate(-90) scale(1.045,1)" font-size="12.5" text-anchor="end" fill="#000">1988</text>
<text transform="translate(444.92,730.4) rotate(-90) scale(1.045,1)" font-size="12.5" text-anchor="end" fill="#000">1990</text>
<text transform="translate(457.58,730.4) rotate(-90) scale(1.045,1)" font-size="12.5" text-anchor="end" fill="#000">1992</text>
<text transform="translate(470.25,730.4) rotate(-90) scale(1.045,1)" font-size="12.5" text-anchor="end" fill="#000">1994</text>
<text transform="translate(482.91,730.4) rotate(-90) scale(1.045,1)" font-size="12.5" text-anchor="end" fill="#000">1996</text>
<text transform="translate(495.58,730.4) rotate(-90) scale(1.045,1)" font-size="12.5" text-anchor="end" fill="#000">1998</text>
<text transform="translate(508.24,730.4) rotate(-90) scale(1.045,1)" font-size="12.5" text-anchor="end" fill="#000">2000</text>
<text transform="translate(520.9,730.4) rotate(-90) scale(1.045,1)" font-size="12.5" text-anchor="end" fill="#000">2002</text>
<text transform="translate(533.57,730.4) rotate(-90) scale(1.045,1)" font-size="12.5" text-anchor="end" fill="#000">2004</text>
<text transform="translate(546.23,730.4) rotate(-90) scale(1.045,1)" font-size="12.5" text-anchor="end" fill="#000">2006</text>
<text transform="translate(558.9,730.4) rotate(-90) scale(1.045,1)" font-size="12.5" text-anchor="end" fill="#000">2008</text>
<text transform="translate(571.56,730.4) rotate(-90) scale(1.045,1)" font-size="12.5" text-anchor="end" fill="#000">2010</text>
<text transform="translate(584.22,730.4) rotate(-90) scale(1.045,1)" font-size="12.5" text-anchor="end" fill="#000">2012</text>
<text transform="translate(596.89,730.4) rotate(-90) scale(1.045,1)" font-size="12.5" text-anchor="end" fill="#000">2014</text>
<text transform="translate(609.55,730.4) rotate(-90) scale(1.045,1)" font-size="12.5" text-anchor="end" fill="#000">2016</text>
<text transform="translate(622.22,730.4) rotate(-90) scale(1.045,1)" font-size="12.5" text-anchor="end" fill="#000">2018</text>
<text transform="translate(342.7,447) scale(0.93,1)" font-size="21" font-weight="bold" text-anchor="middle" fill="#000">LPA</text>
<text transform="translate(343.8,784.4) scale(0.93,1)" font-size="19.3" text-anchor="middle" fill="#000">Years</text>
<line x1="35.35" y1="447.8" x2="42.25" y2="431.2" stroke="#000" stroke-width="1.55"/>
<text x="6.44 12.8 24.11 43.94 60.48 67.82" y="444.8" font-size="18.5" fill="#000" >[µgm³]</text>
<line x1="641.65" y1="452.8" x2="648.75" y2="436.2" stroke="#000" stroke-width="1.55"/>
<text x="613.44 620.04 630.36 650.49 666.78 674.67" y="449.8" font-size="18.5" fill="#000" >[ngm³]</text>
<rect x="75.5" y="802.8" width="534.7" height="45" fill="#FFFFFF" stroke="#1A1A1A" stroke-width="1.2"/>
<line x1="89.4" y1="813.4" x2="124.4" y2="813.4" stroke="#4472C4" stroke-width="2.4"/>
<line x1="268.1" y1="813.4" x2="303.1" y2="813.4" stroke="#ED7D31" stroke-width="2.4"/>
<line x1="446.8" y1="813.4" x2="481.5" y2="813.4" stroke="#70AD47" stroke-width="2.4"/>
<line x1="89.4" y1="837.1" x2="124.4" y2="837.1" stroke="#7030A0" stroke-width="2.4"/>
<line x1="269.6" y1="837.1" x2="303.1" y2="837.1" stroke="#C00000" stroke-width="3.1" stroke-linecap="round" stroke-dasharray="7.7 10.9"/>
<text x="128.3" y="818.5" font-size="14.8" fill="#000" style="white-space:pre">PM10  [&#181;g/m3]</text>
<text x="306.5" y="818.5" font-size="14.8" fill="#000" style="white-space:pre">PM2.5  [&#181;g/m3]</text>
<text x="485.0" y="818.5" font-size="14.8" fill="#000" style="white-space:pre">NO2  [&#181;g/m3]</text>
<text x="128.3" y="842.2" font-size="14.8" fill="#000" style="white-space:pre">Benzene  [&#181;g/m3]</text>
<text x="306.5" y="842.2" font-size="14.8" fill="#000" style="white-space:pre">B(a)P [ng/m3]</text>
</svg></body></html>
